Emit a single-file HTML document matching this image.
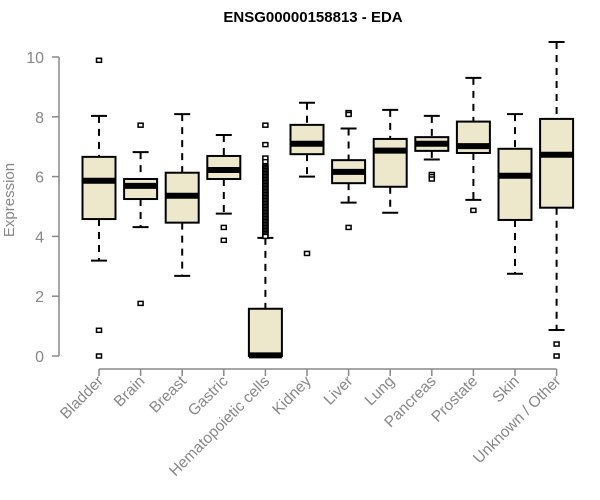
<!DOCTYPE html>
<html><head><meta charset="utf-8"><style>body{margin:0;background:#fff}svg{display:block}</style></head>
<body>
<svg id="chart" width="600" height="500" xmlns="http://www.w3.org/2000/svg" font-family="Liberation Sans, sans-serif">
<text x="313" y="22" text-anchor="middle" font-weight="bold" font-size="15">ENSG00000158813 - EDA</text>
<text transform="translate(14,200) rotate(-90)" text-anchor="middle" font-size="15" fill="#888">Expression</text>
<g id="axes"></g><g id="boxes"></g>
</svg>
<script>
const categories=["Bladder","Brain","Breast","Gastric","Hematopoietic cells","Kidney","Liver","Lung","Pancreas","Prostate","Skin","Unknown / Other"];
const whiskerLow=[3.19,4.31,2.68,4.76,0,6.0,5.13,4.79,6.57,5.22,2.75,0.87];
const q1=[4.58,5.25,4.46,5.92,0,6.75,5.78,5.66,6.86,6.79,4.55,4.96];
const medians=[5.86,5.69,5.36,6.22,0.02,7.10,6.16,6.87,7.10,7.02,6.03,6.73];
const q3=[6.66,5.92,6.13,6.69,1.58,7.73,6.55,7.26,7.32,7.84,6.93,7.93];
const whiskerHigh=[8.03,6.82,8.09,7.39,3.95,8.47,7.61,8.23,8.03,9.30,8.09,10.5];
const outliers=[[9.89,0.86,0],[7.72,1.76],[],[4.30,3.87],
[7.72,7.07,6.62,6.5,6.35,6.3,6.25,6.2,6.15,6.1,6.05,6.0,5.95,5.9,5.85,5.8,5.75,5.7,5.65,5.6,5.55,5.5,5.45,5.4,5.35,5.3,5.25,5.2,5.15,5.1,5.05,5.0,4.95,4.9,4.85,4.8,4.75,4.7,4.65,4.6,4.55,4.5,4.45,4.4,4.35,4.3,4.25,4.2,4.15,4.1,4.05,4.0],
[3.43],[8.14,8.08,4.30],[],[6.07,6.0,5.92],[4.87],[],[0.40,0]];
const yTicks=[0,2,4,6,8,10];
const NS="http://www.w3.org/2000/svg";
const y=v=>356-v*29.9;
const x=i=>99+i*41.6;
function mk(parent,tag,attrs){const e=document.createElementNS(NS,tag);for(const k in attrs)e.setAttribute(k,attrs[k]);parent.appendChild(e);return e;}
const axes=document.getElementById('axes'),boxes=document.getElementById('boxes');
let l=mk(axes,'line',{x1:59,x2:59,y1:y(0),y2:y(10),stroke:'#888','stroke-width':1.5});


yTicks.forEach(t=>{
 const tk=mk(axes,'line',{x1:52,x2:59,y1:y(t),y2:y(t),stroke:'#888','stroke-width':1.5});
 
 
 const tx=mk(axes,'text',{x:44,y:y(t)+6,'text-anchor':'end','font-size':16,fill:'#888'});
 tx.textContent=t;
 
 
});
l=mk(axes,'line',{x1:x(0),x2:x(categories.length-1),y1:369,y2:369,stroke:'#888','stroke-width':1.5});


categories.forEach((c,i)=>{
 const cx=x(i);
 const tk=mk(axes,'line',{x1:cx,x2:cx,y1:369,y2:376,stroke:'#888','stroke-width':1.5});
 
 
 const tx=mk(axes,'text',{transform:`translate(${cx+5},382) rotate(-45)`,'text-anchor':'end','font-size':15.5,fill:'#888'});
 tx.textContent=c;
 
 
 const g=mk(boxes,'g',{});
 
 
 const st={stroke:'#000','stroke-width':2};
 mk(g,'line',Object.assign({x1:cx,x2:cx,y1:y(whiskerHigh[i]),y2:y(q3[i]),'stroke-dasharray':'7,6'},st));
 mk(g,'line',Object.assign({x1:cx,x2:cx,y1:y(q1[i]),y2:y(whiskerLow[i]),'stroke-dasharray':'7,6'},st));
 mk(g,'line',Object.assign({x1:cx-8,x2:cx+8,y1:y(whiskerHigh[i]),y2:y(whiskerHigh[i])},st));
 mk(g,'line',Object.assign({x1:cx-8,x2:cx+8,y1:y(whiskerLow[i]),y2:y(whiskerLow[i])},st));
 mk(g,'rect',{x:cx-16.5,y:y(q3[i]),width:33,height:Math.max(1,y(q1[i])-y(q3[i])),fill:'#ede7cc',stroke:'#000','stroke-width':2});
 mk(g,'line',{x1:cx-16.5,x2:cx+16.5,y1:y(medians[i]),y2:y(medians[i]),stroke:'#000','stroke-width':6});
 outliers[i].forEach(v=>{mk(g,'rect',{x:cx-2.5,y:y(v)-2,width:5,height:4,fill:'#fff',stroke:'#000','stroke-width':1.5});});
});
</script>
</body></html>
